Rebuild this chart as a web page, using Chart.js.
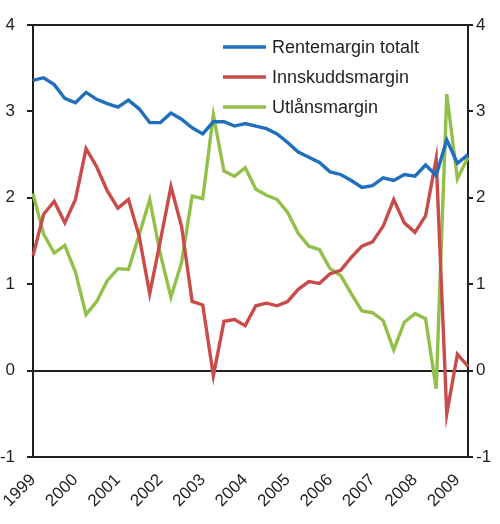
<!DOCTYPE html>
<html>
<head>
<meta charset="utf-8">
<script src="https://cdn.jsdelivr.net/npm/chart.js@4.4.0/dist/chart.umd.min.js"></script>
<style>
  html, body { margin: 0; padding: 0; background: #fff; }
  #wrap { width: 500px; height: 524px; position: relative; }
</style>
</head>
<body>
<div id="wrap"><canvas id="marginChart"></canvas></div>
<script>
// Quarterly, 1999 K1 - 2009 K2
const quarters = [
    '1999K1', '1999K2', '1999K3', '1999K4', '2000K1', '2000K2', '2000K3', '2000K4',
    '2001K1', '2001K2', '2001K3', '2001K4', '2002K1', '2002K2', '2002K3', '2002K4',
    '2003K1', '2003K2', '2003K3', '2003K4', '2004K1', '2004K2', '2004K3', '2004K4',
    '2005K1', '2005K2', '2005K3', '2005K4', '2006K1', '2006K2', '2006K3', '2006K4',
    '2007K1', '2007K2', '2007K3', '2007K4', '2008K1', '2008K2', '2008K3', '2008K4',
    '2009K1', '2009K2'
];

const rentemarginTotalt = [
    3.36, 3.39, 3.31, 3.15, 3.10, 3.22, 3.14, 3.09, 3.05, 3.13,
    3.03, 2.87, 2.87, 2.98, 2.91, 2.81, 2.74, 2.88, 2.88, 2.83,
    2.86, 2.83, 2.80, 2.74, 2.64, 2.53, 2.47, 2.41, 2.30, 2.27,
    2.20, 2.12, 2.14, 2.23, 2.20, 2.27, 2.25, 2.38, 2.26, 2.67,
    2.40, 2.50
];

const innskuddsmargin = [
    1.33, 1.81, 1.96, 1.71, 1.98, 2.57, 2.36, 2.08, 1.88, 1.98,
    1.56, 0.89, 1.50, 2.13, 1.67, 0.80, 0.76, -0.06, 0.57, 0.59,
    0.52, 0.75, 0.78, 0.75, 0.80, 0.94, 1.03, 1.01, 1.12, 1.16,
    1.31, 1.44, 1.49, 1.67, 1.98, 1.71, 1.60, 1.79, 2.45, -0.50,
    0.19, 0.05
];

const utlansmargin = [
    2.05, 1.58, 1.36, 1.45, 1.14, 0.65, 0.80, 1.04, 1.18, 1.17,
    1.57, 1.98, 1.35, 0.85, 1.25, 2.02, 1.99, 2.96, 2.31, 2.25,
    2.35, 2.10, 2.03, 1.98, 1.83, 1.59, 1.44, 1.40, 1.18, 1.10,
    0.89, 0.69, 0.67, 0.58, 0.24, 0.56, 0.66, 0.60, -0.21, 3.20,
    2.22, 2.47
];

const yTicks = [-1, 0, 1, 2, 3, 4];

const AXIS = '#231f20';
const FONT = "Arial, 'Liberation Sans', sans-serif";

// frame round the plot area
const framePlugin = {
    id: 'frame',
    beforeDatasetsDraw(chart) {
        const { ctx, chartArea: a } = chart;
        ctx.save();
        ctx.strokeStyle = AXIS;
        ctx.lineWidth = 2;
        ctx.strokeRect(a.left, a.top, a.right - a.left, a.bottom - a.top);
        ctx.restore();
    }
};

// legend inside the plot, top right
const insideLegend = {
    id: 'insideLegend',
    afterDatasetsDraw(chart) {
        const { ctx } = chart;
        ctx.save();
        ctx.font = '18px ' + FONT;
        ctx.textBaseline = 'middle';
        chart.data.datasets.forEach((ds, i) => {
            const y = 47 + i * 30;
            ctx.strokeStyle = ds.borderColor;
            ctx.lineWidth = 3.5;
            ctx.beginPath();
            ctx.moveTo(223, y);
            ctx.lineTo(266, y);
            ctx.stroke();
            ctx.fillStyle = AXIS;
            ctx.fillText(ds.label, 272, y + 1);
        });
        ctx.restore();
    }
};

const common = { borderWidth: 3.4, pointRadius: 0, tension: 0, fill: false };

new Chart(document.getElementById('marginChart'), {
    type: 'line',
    data: {
        labels: quarters,
        datasets: [
            { label: 'Rentemargin totalt', data: rentemarginTotalt, borderColor: '#1f6fbd', ...common },
            { label: 'Innskuddsmargin', data: innskuddsmargin, borderColor: '#c94c4a', ...common },
            { label: 'Utlånsmargin', data: utlansmargin, borderColor: '#92c04a', ...common }
        ]
    },
    options: {
        responsive: true,
        maintainAspectRatio: false,
        animation: false,
        layout: { padding: { top: 25, left: 0, right: 0, bottom: 0 } },
        plugins: { legend: { display: false }, tooltip: { enabled: false } },
        scales: {
            x: {
                offset: false,
                grid: { display: false, drawTicks: false },
                border: { display: false },
                ticks: {
                    autoSkip: false,
                    maxRotation: 45,
                    minRotation: 45,
                    padding: 13,
                    color: AXIS,
                    font: { family: FONT, size: 17 },
                    callback: function(value) {
                        const q = quarters[value];
                        return q.endsWith('K1') ? q.slice(0, 4) : '';
                    }
                },
                afterFit: (scale) => {
                    scale.height = 67;
                    scale.paddingLeft = 0;
                    scale.paddingRight = 0;
                }
            },
            y: {
                position: 'left',
                min: yTicks[0],
                max: yTicks[yTicks.length - 1],
                afterBuildTicks: (scale) => { scale.ticks = yTicks.map(v => ({ value: v })); },
                grid: {
                    color: (c) => c.tick && c.tick.value === 0 ? AXIS : 'rgba(0,0,0,0)',
                    lineWidth: 2,
                    tickColor: AXIS,
                    tickLength: 6,
                    drawTicks: true
                },
                border: { display: false },
                ticks: {
                    padding: 12,
                    color: AXIS,
                    font: { family: FONT, size: 17 }
                },
                afterFit: (scale) => {
                    scale.width = 33;
                    scale.paddingTop = 0;
                    scale.paddingBottom = 0;
                }
            },
            y2: {
                position: 'right',
                min: yTicks[0],
                max: yTicks[yTicks.length - 1],
                afterBuildTicks: (scale) => { scale.ticks = yTicks.map(v => ({ value: v })); },
                grid: {
                    drawOnChartArea: false,
                    tickColor: AXIS,
                    lineWidth: 2,
                    tickLength: 5
                },
                border: { display: false },
                ticks: {
                    padding: 3,
                    color: AXIS,
                    font: { family: FONT, size: 17 }
                },
                afterFit: (scale) => {
                    scale.width = 32;
                    scale.paddingTop = 0;
                    scale.paddingBottom = 0;
                }
            }
        }
    },
    plugins: [framePlugin, insideLegend]
});
</script>
</body>
</html>
